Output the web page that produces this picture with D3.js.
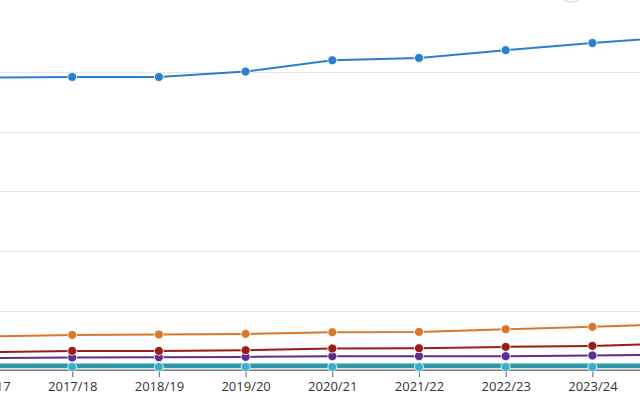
<!DOCTYPE html>
<html><head><meta charset="utf-8">
<script src="https://cdn.jsdelivr.net/npm/d3@7"></script>
<style>html,body{margin:0;padding:0;background:#fff;overflow:hidden}</style>
</head><body>
<svg id="c" width="640" height="400"></svg>
<script>
const categories = ["2016/17","2017/18","2018/19","2019/20","2020/21","2021/22","2022/23","2023/24","2024/25"];
const seriesBlue   = [49.1, 49.2, 49.2, 50.1, 52.0, 52.4, 53.7, 54.9, 56.0];
const seriesOrange = [5.65, 5.92, 5.99, 6.09, 6.38, 6.43, 6.88, 7.27, 7.80];
const seriesRed    = [3.04, 3.24, 3.24, 3.36, 3.64, 3.69, 3.91, 4.08, 4.53];
const seriesPurple = [2.05, 2.13, 2.18, 2.23, 2.35, 2.35, 2.35, 2.47, 2.58];
const seriesTeal   = [0.92, 0.92, 0.92, 0.92, 0.92, 0.92, 0.92, 0.92, 0.92];
const seriesCyan   = [0.54, 0.54, 0.54, 0.54, 0.54, 0.54, 0.54, 0.54, 0.54];
const gridTicks    = [10, 20, 30, 40, 50];

const svg = d3.select("#c");
const x = d3.scalePoint().domain(categories).range([-14.5, 679.1]);
const y = d3.scaleLinear().domain([0, 60]).range([370.2, 12.6]);

// faint partial circle at top (button)
svg.append("circle").attr("cx", 571).attr("cy", -13).attr("r", 15)
  .attr("fill", "#fff").attr("stroke", "#e6e6e6").attr("stroke-width", 2);

// gridlines
svg.append("g").selectAll("line").data(gridTicks).join("line")
  .attr("x1", 0).attr("x2", 640)
  .attr("y1", d => Math.round(y(d)) + 0.5).attr("y2", d => Math.round(y(d)) + 0.5)
  .attr("stroke", "#e6e6e6").attr("stroke-width", 1);

// x axis
const xAxis = d3.axisBottom(x).tickSize(7).tickPadding(5);
const gx = svg.append("g").attr("transform", `translate(0,${y(0)})`).call(xAxis);
gx.select(".domain").attr("stroke", "#7a7a7a").attr("stroke-width", 1.5);
gx.selectAll(".tick line").attr("stroke", "#7a7a7a").attr("stroke-width", 1.2);
gx.selectAll(".tick text").attr("font-family", "'Open Sans', sans-serif")
  .attr("font-size", 13).attr("fill", "#333");
svg.select(".domain").attr("d", "M-20,0H660");

const series = [
  {vals: seriesCyan, color: "#2e9aa8", mcolor: "#3aaecf", w: 2.5},
  {vals: seriesTeal, color: "#2b9aaa", mcolor: null, w: 2.5},
  {vals: seriesPurple, color: "#5b2d91", mcolor: "#5b2d91", w: 2},
  {vals: seriesRed, color: "#9b1c14", mcolor: "#9b1c14", w: 2},
  {vals: seriesOrange, color: "#d9782a", mcolor: "#d9782a", w: 2},
  {vals: seriesBlue, color: "#2a7fd1", mcolor: "#2a7fd1", w: 2}
];

const line = d3.line().x((d, i) => x(categories[i])).y(d => y(d));
series.forEach(s => {
  svg.append("path").datum(s.vals).attr("d", line)
    .attr("fill", "none").attr("stroke", s.color).attr("stroke-width", s.w)
    .attr("stroke-linejoin", "round");
});
series.forEach(s => {
  if (!s.mcolor) return;
  svg.append("g").selectAll("circle").data(s.vals).join("circle")
    .attr("cx", (d, i) => x(categories[i])).attr("cy", d => y(d))
    .attr("r", 4.5).attr("fill", s.mcolor)
    .attr("stroke", "#fff").attr("stroke-width", 0.8);
});
</script>
</body></html>
